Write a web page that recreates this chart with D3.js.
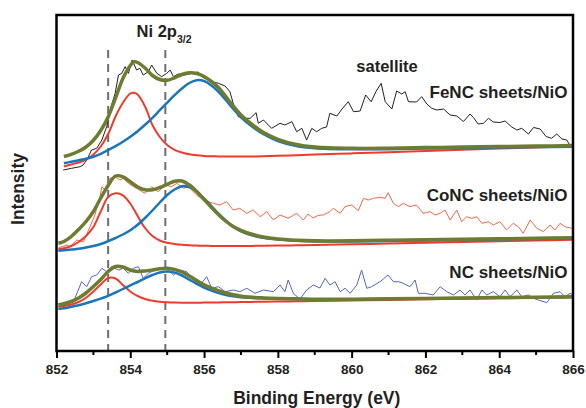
<!DOCTYPE html>
<html>
<head>
<meta charset="utf-8">
<script src="https://cdn.jsdelivr.net/npm/d3@7"></script>
<style>
  body { margin: 0; background: #fff; }
  svg text { font-family: "Liberation Sans", Arial, sans-serif; font-weight: bold; fill: #231f20; }
</style>
</head>
<body>
<svg id="chart" width="586" height="408"></svg>
<script>
// Binding energies (eV) where the fitted curves were read
const fitEnergy = [852.05, 852.2, 852.4, 852.6, 852.8, 853.0, 853.2, 853.4, 853.6, 853.8,
  854.0, 854.1, 854.2, 854.4, 854.6, 854.8, 855.0, 855.2, 855.4, 855.6, 855.8, 856.0,
  856.2, 856.4, 856.6, 856.8, 857.0, 857.3, 857.6, 858.0, 858.5, 859, 860, 861, 862,
  863, 864, 865, 866];

// FeNC sheets/NiO fits (a.u., offset spectrum)
const feEnvelope = [null, 194.5, 196.7, 199.7, 204.0, 210.7, 220.5, 234.0, 253.0, 272.5,
  285.5, 289.3, 288.5, 283.0, 275.5, 271.5, 270.7, 273.2, 276.5, 278.2, 277.5, 274.5,
  269.5, 263.0, 254.0, 244.5, 236.0, 226.5, 218.7, 211.7, 206.5, 204.0, 202.7, 202.8,
  203.4, 203.9, 204.4, 204.9, 205.4];
const fePeak1 = [null, 184.5, 186.5, 188.5, 191.3, 196.5, 204.5, 217.0, 234.5, 248.3,
  257.5, 258.2, 256.5, 244.5, 226.0, 214.0, 206.0, 201.2, 198.5, 196.7, 195.7, 195.1,
  194.8, 194.6, 194.5, 194.4, 194.4, 194.5, 194.8, 195.2, 195.8, 196.4, 197.6, 198.7,
  200.0, 201.2, 202.4, 203.5, 204.6];
const fePeak2 = [null, 187.8, 189.2, 190.7, 192.2, 194.3, 197.2, 200.9, 204.8, 209.2,
  214.2, 217.0, 219.8, 226.2, 233.2, 240.8, 248.4, 255.8, 262.5, 268.0, 270.8, 270.0,
  265.5, 259.0, 250.5, 241.8, 233.7, 224.5, 217.0, 210.0, 205.0, 202.8, 201.7, 201.8,
  202.5, 203.0, 203.4, 203.9, 204.3];

// CoNC sheets/NiO fits
const coEnvelope = [107.7, 109.5, 114.5, 121.5, 129.5, 139.5, 153.0, 165.5, 175.0, 174.2,
  169.2, 166.5, 164.0, 161.2, 161.2, 163.5, 166.7, 169.7, 170.0, 166.0, 159.5, 151.5,
  143.5, 136.0, 129.5, 124.2, 120.7, 116.7, 114.0, 112.0, 110.8, 110.2, 110.2, 110.7,
  111.2, 111.7, 112.2, 112.7, 113.2];
const coPeak1 = [101.7, 102.7, 105.0, 109.0, 115.0, 124.0, 139.5, 154.0, 157.7, 155.7,
  147.5, 141.5, 135.0, 123.0, 115.0, 110.5, 108.2, 107.0, 106.2, 105.7, 105.4, 105.2,
  105.1, 105.0, 105.0, 105.0, 105.0, 105.1, 105.2, 105.4, 105.7, 106.0, 106.7, 107.5,
  108.2, 109.0, 109.8, 110.5, 111.2];
const coPeak2 = [100.3, 100.7, 101.4, 102.2, 103.4, 105.0, 107.0, 109.8, 113.0, 116.5,
  120.8, 123.5, 126.2, 133.0, 140.5, 148.5, 156.0, 161.5, 164.7, 164.0, 159.5, 152.5,
  145.0, 137.0, 130.0, 124.0, 119.7, 115.7, 113.2, 111.4, 110.2, 109.6, 109.5, 110.0,
  110.6, 111.1, 111.6, 112.1, 112.5];

// NC sheets/NiO fits
const ncEnvelope = [46.0, 47.2, 49.5, 53.0, 58.0, 64.5, 71.5, 79.5, 84.5, 84.0,
  81.0, 80.0, 79.5, 80.0, 81.0, 82.2, 82.7, 81.5, 79.0, 75.0, 70.5, 66.2,
  63.0, 60.2, 58.0, 56.2, 54.8, 53.7, 53.1, 52.6, 52.2, 51.8, 51.8, 52.2,
  52.6, 53.0, 53.4, 53.8, 54.2];
const ncPeak1 = [44.3, 45.0, 46.5, 49.0, 53.2, 59.5, 66.5, 73.0, 72.5, 66.0,
  59.5, 57.0, 55.0, 52.0, 50.2, 49.2, 48.7, 48.4, 48.3, 48.3, 48.3, 48.4,
  48.5, 48.6, 48.7, 48.8, 48.9, 49.1, 49.2, 49.4, 49.7, 50.0, 50.5, 51.1,
  51.7, 52.2, 52.7, 53.2, 53.7];
const ncPeak2 = [42.0, 42.7, 44.2, 45.8, 47.7, 50.0, 52.4, 55.2, 58.5, 62.0,
  65.7, 67.3, 69.0, 72.7, 76.0, 78.5, 79.4, 78.4, 75.5, 71.4, 67.2, 63.4,
  60.4, 58.0, 56.0, 54.7, 53.8, 53.1, 52.7, 52.3, 52.0, 51.7, 51.7, 52.1,
  52.5, 52.9, 53.3, 53.7, 54.1];

// Measured spectra
const feRawEnergy = [852.18, 852.41, 852.64, 852.72, 852.82, 852.95, 853.09, 853.23, 853.36, 853.45,
  853.59, 853.68, 853.77, 853.86, 853.95, 854.05, 854.17, 854.26, 854.35, 854.49,
  854.58, 854.72, 854.85, 854.99, 855.08, 855.17, 855.30, 855.48, 855.67, 855.84,
  855.94, 856.07, 856.21, 856.39, 856.57, 856.70, 856.79, 856.93, 857.11, 857.25,
  857.41, 857.47, 857.61, 857.83, 858.06, 858.19, 858.38, 858.51, 858.65, 858.78,
  858.92, 859.05, 859.19, 859.32, 859.41, 859.60, 859.74, 859.91, 860.05, 860.23,
  860.38, 860.53, 860.66, 860.80, 860.91, 861.09, 861.22, 861.36, 861.45, 861.54,
  861.76, 861.90, 862.04, 862.17, 862.31, 862.49, 862.67, 862.85, 863.03, 863.21,
  863.30, 863.43, 863.57, 863.71, 863.84, 864.02, 864.16, 864.34, 864.48, 864.61,
  864.79, 864.93, 865.11, 865.27, 865.42, 865.56, 865.70, 865.83, 865.92, 866.00];
const feRawIntensity = [181, 182.7, 184.3, 186, 191, 201, 202.7, 211, 224.3, 241,
  257.7, 276, 277.7, 284.3, 277.7, 291, 281, 282.7, 276, 279.3,
  286, 277.7, 274.3, 277.7, 281, 274.3, 277, 276, 277.7, 279,
  274.3, 271.7, 269.3, 267.7, 265, 259.3, 247.7, 234.3, 232.7, 232.7,
  238.3, 227.7, 231, 222.7, 227.7, 226, 229.3, 219.3, 222.7, 211,
  222.7, 219.3, 222.7, 224, 237.7, 235, 242, 249.3, 239.3, 240,
  256, 249.3, 259.5, 267.7, 249.3, 242, 260, 257, 259.3, 249.3,
  249, 254.3, 247, 242.7, 241, 242, 236, 235, 229.5, 237,
  233.5, 227, 227.7, 232.7, 229, 228.5, 230, 224, 221, 222.7,
  217, 223.5, 222, 214.5, 212.7, 217, 212, 211, 205.5, 205];

const coRawEnergy = [852.05, 852.28, 852.37, 852.55, 852.73, 852.91, 853.04, 853.18, 853.23, 853.31,
  853.45, 853.59, 853.72, 853.81, 853.95, 854.17, 854.40, 854.58, 854.76, 854.94,
  855.12, 855.26, 855.44, 855.57, 855.80, 855.98, 856.25, 856.43, 856.61, 856.79,
  856.97, 857.16, 857.33, 857.52, 857.70, 857.88, 858.06, 858.28, 858.51, 858.69,
  858.82, 858.95, 859.09, 859.23, 859.41, 859.50, 859.69, 859.82, 860.00, 860.18,
  860.32, 860.45, 860.59, 860.77, 860.91, 860.99, 861.13, 861.27, 861.40, 861.58,
  861.76, 861.94, 862.13, 862.26, 862.40, 862.53, 862.67, 862.85, 862.98, 863.12,
  863.26, 863.39, 863.53, 863.71, 863.84, 864.02, 864.20, 864.38, 864.52, 864.65,
  864.84, 865.02, 865.20, 865.38, 865.51, 865.65, 865.78, 865.97, 866.00];
const coRawIntensity = [103, 106, 104.3, 111, 109.3, 124.3, 136, 154.3, 164.3, 161,
  172.7, 174.3, 171, 172.7, 167.7, 162.7, 157.7, 164.3, 159.3, 166,
  164.3, 167.7, 162.7, 164.3, 156, 151, 147.7, 146, 149.3, 141,
  142.7, 137.7, 141, 134.3, 139.3, 131, 136, 132.7, 137.7, 131,
  137, 133, 135.5, 136, 139.3, 142.7, 137.7, 144.3, 146, 140.3,
  152.7, 151, 152.7, 153.7, 152.7, 158.3, 147.7, 144.3, 147.7, 144.3,
  146, 137.7, 139.3, 136, 137.7, 141, 131, 141, 129.3, 134.3,
  132.7, 134.3, 127.7, 129.3, 126, 129.3, 121, 127.7, 124.3, 117.7,
  131, 122.7, 119.3, 126, 121, 127.7, 124.3, 122.7, 123];

const ncRawEnergy = [852.05, 852.28, 852.46, 852.59, 852.68, 852.82, 852.95, 853.09, 853.23, 853.36,
  853.50, 853.68, 853.81, 853.95, 854.08, 854.22, 854.35, 854.49, 854.67, 854.85,
  855.03, 855.17, 855.35, 855.53, 855.71, 855.89, 856.07, 856.21, 856.39, 856.57,
  856.79, 856.97, 857.16, 857.38, 857.61, 857.88, 858.06, 858.19, 858.28, 858.42,
  858.60, 858.78, 858.96, 859.14, 859.28, 859.41, 859.55, 859.69, 859.82, 859.96,
  860.14, 860.27, 860.41, 860.54, 860.77, 860.99, 861.13, 861.27, 861.40, 861.58,
  861.72, 861.81, 861.99, 862.21, 862.40, 862.58, 862.76, 862.94, 863.07, 863.21,
  863.39, 863.53, 863.66, 863.84, 864.02, 864.16, 864.29, 864.48, 864.61, 864.79,
  864.93, 865.06, 865.29, 865.47, 865.65, 865.78, 865.92, 866.00];
const ncRawIntensity = [44.3, 47.7, 49.3, 61, 69.3, 64.3, 74.3, 76, 82.7, 79.3,
  84.3, 81, 82.7, 77.7, 82.7, 84.3, 72.7, 77.7, 81, 82.7,
  81, 76, 81, 79.3, 71, 66, 74.3, 62.7, 64.3, 59.3,
  61, 59.3, 62.7, 57.7, 61, 59.3, 66, 59.3, 71, 57.7,
  52, 61, 66, 63, 72.7, 66, 69.3, 59.3, 62.7, 57.7,
  66, 81, 62.7, 64.3, 69.3, 76, 69.3, 69.3, 67.7, 64.3,
  71, 57.7, 57.7, 56, 64.3, 59.3, 56, 61, 56, 61,
  51, 61, 56, 59.3, 54.3, 61, 54.3, 61, 54.3, 56,
  52.7, 51, 48.3, 57.7, 59.3, 54.3, 57.7, 56];

// Reference peak positions (eV) and axis ticks
const guideEnergy = [853.4, 854.95];
const majorTicks = [852, 854, 856, 858, 860, 862, 864, 866];
const minorTicks = [853, 855, 857, 859, 861, 863, 865];
const sampleNames = ["FeNC sheets/NiO", "CoNC sheets/NiO", "NC sheets/NiO"];

/**
 * Stacked XPS Ni 2p3/2 spectra with fitted components
 */
class XpsChart {
  constructor(svg) {
    this.svg = svg;
    this.margin = {top: 15, right: 13, bottom: 57, left: 56.5};
    this.width = 586 - this.margin.left - this.margin.right;
    this.height = 408 - this.margin.top - this.margin.bottom;

    this.x = d3.scaleLinear().domain([852, 866]).range([0, this.width]);
    this.y = d3.scaleLinear().domain([0, 336]).range([this.height, 0]);

    this.g = svg.append("g")
      .attr("transform", `translate(${this.margin.left},${this.margin.top})`);

    this.g.append("clipPath").attr("id", "plotClip")
      .append("rect").attr("width", this.width).attr("height", this.height);

    this.plot = this.g.append("g").attr("clip-path", "url(#plotClip)");

    this.drawGuides();
    this.drawSpectrum(feRawEnergy, feRawIntensity, "#231f20", [fePeak1, fePeak2, feEnvelope]);
    this.drawSpectrum(coRawEnergy, coRawIntensity, "#f3674a", [coPeak1, coPeak2, coEnvelope]);
    this.drawSpectrum(ncRawEnergy, ncRawIntensity, "#5166c6", [ncPeak1, ncPeak2, ncEnvelope]);
    this.drawAxes();
    this.drawLabels();
  }

  drawGuides() {
    this.plot.selectAll("line.guide")
      .data(guideEnergy)
      .enter()
      .append("line")
      .attr("class", "guide")
      .attr("x1", d => this.x(d))
      .attr("x2", d => this.x(d))
      .attr("y1", this.y(301))
      .attr("y2", this.y(0))
      .style("stroke", "#6d6e71")
      .style("stroke-width", 2)
      .style("stroke-dasharray", "8,6");
  }

  /**
   * Draw one measured spectrum and its fitted peaks + envelope
   */
  drawSpectrum(energy, intensity, rawColor, fits) {
    let rawLine = d3.line()
      .x((d, i) => this.x(energy[i]))
      .y(d => this.y(d));

    this.plot.append("path")
      .datum(intensity)
      .attr("d", rawLine)
      .style("fill", "none")
      .style("stroke", rawColor)
      .style("stroke-width", 1)
      .style("stroke-linejoin", "round");

    let fitLine = d3.line()
      .defined(d => d !== null)
      .x((d, i) => this.x(fitEnergy[i]))
      .y(d => this.y(d))
      .curve(d3.curveCatmullRom.alpha(0.5));

    let styles = [
      {color: "#ef3b2c", width: 2},
      {color: "#1b75bb", width: 2.5},
      {color: "#6e7c30", width: 3.5}
    ];

    fits.forEach((values, k) => {
      this.plot.append("path")
        .datum(values)
        .attr("d", fitLine)
        .style("fill", "none")
        .style("stroke", styles[k].color)
        .style("stroke-width", styles[k].width);
    });
  }

  drawAxes() {
    let axis = d3.axisBottom(this.x)
      .tickValues(majorTicks)
      .tickSize(7)
      .tickPadding(6.5)
      .tickFormat(d3.format("d"));

    let ax = this.g.append("g")
      .attr("transform", `translate(0,${this.height})`)
      .call(axis);
    ax.select(".domain").remove();
    ax.selectAll(".tick line").style("stroke", "#000").style("stroke-width", 2);
    ax.selectAll(".tick text")
      .style("font-size", "13.5px")
      .style("font-family", "'Liberation Sans', Arial, sans-serif")
      .style("font-weight", "bold")
      .style("fill", "#231f20");

    this.g.append("g")
      .attr("transform", `translate(0,${this.height})`)
      .selectAll("line")
      .data(minorTicks)
      .enter()
      .append("line")
      .attr("x1", d => this.x(d))
      .attr("x2", d => this.x(d))
      .attr("y1", 0)
      .attr("y2", 4)
      .style("stroke", "#000")
      .style("stroke-width", 2);

    // frame
    this.g.append("rect")
      .attr("width", this.width)
      .attr("height", this.height)
      .style("fill", "none")
      .style("stroke", "#000")
      .style("stroke-width", 2.5);

    this.g.append("text")
      .attr("x", this.width / 2 + 2)
      .attr("y", this.height + 53)
      .attr("text-anchor", "middle")
      .style("font-size", "17.5px")
      .text("Binding Energy (eV)");

    this.g.append("text")
      .attr("transform", `translate(${-33},${this.height / 2 + 6}) rotate(-90)`)
      .attr("text-anchor", "middle")
      .style("font-size", "17.5px")
      .text("Intensity");
  }

  drawLabels() {
    let nameY = [252.7, 150.3, 72.7];
    this.g.selectAll("text.sample")
      .data(sampleNames)
      .enter()
      .append("text")
      .attr("class", "sample")
      .attr("x", this.x(865.85))
      .attr("y", (d, i) => this.y(nameY[i]))
      .attr("text-anchor", "end")
      .style("font-size", "17px")
      .text(d => d);

    this.g.append("text")
      .attr("x", this.x(860.96))
      .attr("y", this.y(279))
      .attr("text-anchor", "middle")
      .style("font-size", "16.5px")
      .text("satellite");

    let ni = this.g.append("text")
      .attr("x", this.x(854.17))
      .attr("y", this.y(314))
      .style("font-size", "16.5px")
      .text("Ni 2p");
    ni.append("tspan")
      .attr("dy", 6)
      .style("font-size", "10.5px")
      .text("3/2");
  }
}

new XpsChart(d3.select("#chart"));
</script>
</body>
</html>
